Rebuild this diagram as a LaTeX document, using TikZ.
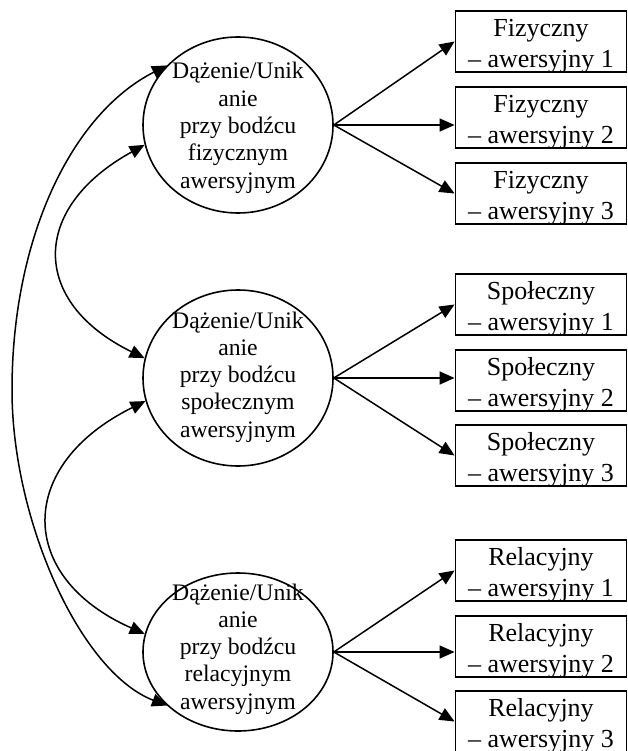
\documentclass[tikz,border=0pt]{standalone}
\usepackage{fontspec}
\setmainfont{Liberation Serif}
\usetikzlibrary{arrows.meta,shapes.geometric}
\newcommand{\twol}[2]{\begin{tabular}[t]{@{}c@{}}#1\\#2\end{tabular}}
\newcommand{\fivel}[5]{\begin{tabular}[t]{@{}c@{}}#1\\#2\\#3\\#4\\#5\end{tabular}}
\begin{document}
\begin{tikzpicture}[x=1pt,y=-1pt,
  boxshape/.style={draw, line width=1.9pt, minimum width=171pt, minimum height=61pt, inner sep=0pt},
  boxtext/.style={anchor=base, inner sep=0pt, font=\fontsize{26}{30.7}\selectfont},
  ell/.style={draw, ellipse, line width=1.6pt, inner sep=0pt, minimum width=190pt},
  elltext/.style={anchor=base, inner sep=0pt, font=\fontsize{23.7}{27.3}\selectfont},
  arr/.style={line width=1.5pt, -{Triangle[length=15pt,width=13pt]}},
  dbl/.style={line width=1.5pt, {Triangle[length=15pt,width=13pt]}-{Triangle[length=15pt,width=13pt]}}]
\useasboundingbox (0,0) rectangle (628,751);

% circles
\node[ell, minimum height=176pt] (c1) at (238,125) {};
\node[ell, minimum height=176pt] (c2) at (238,378) {};
\node[ell, minimum height=158pt] (c3) at (238,652) {};
\node[elltext] (t1) at (238,79) {\fivel{Dążenie/Unik}{anie}{przy bodźcu}{fizycznym}{awersyjnym}};
\node[elltext] (t2) at (238,328) {\fivel{Dążenie/Unik}{anie}{przy bodźcu}{społecznym}{awersyjnym}};
\node[elltext] (t3) at (238,600) {\fivel{Dążenie/Unik}{anie}{przy bodźcu}{relacyjnym}{awersyjnym}};

% boxes
\foreach \n/\y in {11/41.5,12/117.5,13/193.5,21/304.5,22/380.5,23/455.5,31/570.5,32/646.5,33/721.5}
  \node[boxshape] (b\n) at (541,\y) {};
\node[boxtext] (l11) at (541,36.5) {\twol{Fizyczny}{– awersyjny 1}};
\node[boxtext] (l12) at (541,112.5) {\twol{Fizyczny}{– awersyjny 2}};
\node[boxtext] (l13) at (541,188.5) {\twol{Fizyczny}{– awersyjny 3}};
\node[boxtext] (l21) at (541,299.5) {\twol{Społeczny}{– awersyjny 1}};
\node[boxtext] (l22) at (541,375.5) {\twol{Społeczny}{– awersyjny 2}};
\node[boxtext] (l23) at (541,450.5) {\twol{Społeczny}{– awersyjny 3}};
\node[boxtext] (l31) at (541,565.5) {\twol{Relacyjny}{– awersyjny 1}};
\node[boxtext] (l32) at (541,641.5) {\twol{Relacyjny}{– awersyjny 2}};
\node[boxtext] (l33) at (541,716.5) {\twol{Relacyjny}{– awersyjny 3}};

% right arrows
\foreach \c in {1,2,3}{
  \draw[arr] (c\c.east) -- (b\c1.west);
  \draw[arr] (c\c.east) -- (c\c.east -| b\c2.west);
  \draw[arr] (c\c.east) -- (b\c3.west);
}

% left curves
\draw[dbl] (c1.140) .. controls (70,115) and (12,240) .. (12,390)
  .. controls (12,520) and (80,672) .. (c3.217);
\draw[dbl] (c1.192) .. controls (30,208) and (30,302) .. (c2.168);
\draw[dbl] (c2.194) .. controls (16,465) and (16,577) .. (c3.169);
\end{tikzpicture}
\end{document}
